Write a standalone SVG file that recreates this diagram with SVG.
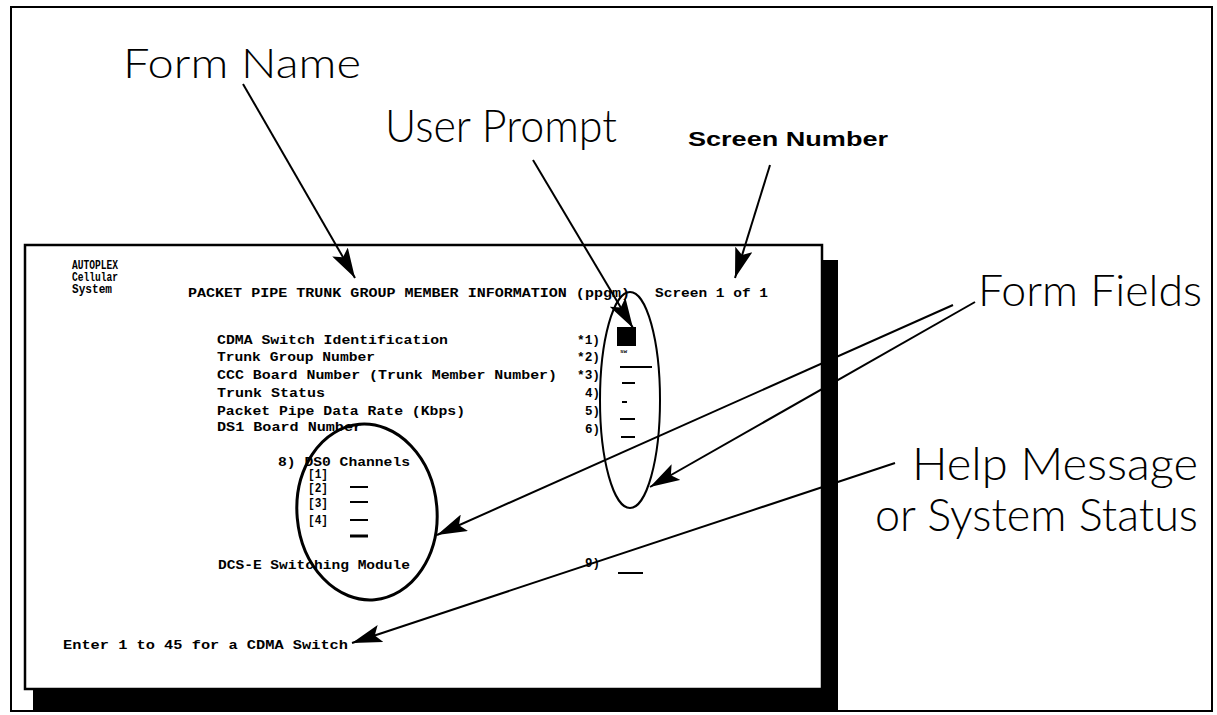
<svg xmlns="http://www.w3.org/2000/svg" width="1217" height="715" viewBox="0 0 1217 715">
<style>
.lbl{font-family:Lato,"Open Sans","Liberation Sans",sans-serif;font-weight:300;fill:#000}
.scr{font-family:"Liberation Mono","DejaVu Sans Mono",monospace;font-size:12px;font-weight:bold;fill:#000}
.con{stroke:#000;stroke-width:2;fill:none;marker-end:url(#ah)}
.fld{stroke:#000;stroke-width:2}
</style>
<defs>
<marker id="ah" markerUnits="userSpaceOnUse" markerWidth="30" markerHeight="18" refX="30" refY="9" orient="auto">
<path d="M0,0 L30,9 L0,18 L6,9 z" fill="#000"/>
</marker>
</defs>
<rect width="1217" height="715" fill="#fff"/>
<rect x="11" y="7" width="1201" height="704" fill="none" stroke="#000" stroke-width="2"/>

<g id="screen">
<path d="M822,260 H838 V710 H33 V689 H822 Z" fill="#000"/>
<rect x="25" y="245" width="797" height="444" fill="#fff" stroke="#000" stroke-width="2.5"/>
<text class="scr" x="72" y="269" textLength="46" lengthAdjust="spacingAndGlyphs">AUTOPLEX</text>
<text class="scr" x="72" y="281" textLength="46" lengthAdjust="spacingAndGlyphs">Cellular</text>
<text class="scr" x="72" y="293" textLength="40" lengthAdjust="spacingAndGlyphs">System</text>
<text class="scr" x="188" y="297" textLength="442" lengthAdjust="spacingAndGlyphs" style="font-size:13px">PACKET PIPE TRUNK GROUP MEMBER INFORMATION (ppgm)</text>
<text class="scr" x="655" y="297" textLength="113" lengthAdjust="spacingAndGlyphs">Screen 1 of 1</text>
<text class="scr" x="217" y="344" textLength="231" lengthAdjust="spacingAndGlyphs">CDMA Switch Identification</text>
<text class="scr" x="217" y="361" textLength="158" lengthAdjust="spacingAndGlyphs">Trunk Group Number</text>
<text class="scr" x="217" y="379" textLength="340" lengthAdjust="spacingAndGlyphs">CCC Board Number (Trunk Member Number)</text>
<text class="scr" x="217" y="397" textLength="108" lengthAdjust="spacingAndGlyphs">Trunk Status</text>
<text class="scr" x="217" y="415" textLength="248" lengthAdjust="spacingAndGlyphs">Packet Pipe Data Rate (Kbps)</text>
<text class="scr" x="217" y="431" textLength="145" lengthAdjust="spacingAndGlyphs">DS1 Board Number</text>
<text class="scr" x="577" y="344" textLength="23" lengthAdjust="spacingAndGlyphs">*1)</text>
<text class="scr" x="577" y="361" textLength="23" lengthAdjust="spacingAndGlyphs">*2)</text>
<text class="scr" x="577" y="379" textLength="23" lengthAdjust="spacingAndGlyphs">*3)</text>
<text class="scr" x="585" y="397" textLength="15" lengthAdjust="spacingAndGlyphs">4)</text>
<text class="scr" x="585" y="415" textLength="15" lengthAdjust="spacingAndGlyphs">5)</text>
<text class="scr" x="585" y="433" textLength="15" lengthAdjust="spacingAndGlyphs">6)</text>
<rect x="617" y="327" width="19" height="19" fill="#000"/>
<text class="scr" x="620" y="353" style="font-size:6px">sw</text>
<line class="fld" x1="620" y1="367" x2="652" y2="367"/>
<line class="fld" x1="622" y1="383" x2="635" y2="383"/>
<line class="fld" x1="622" y1="402" x2="627" y2="402"/>
<line class="fld" x1="620" y1="419" x2="635" y2="419"/>
<line class="fld" x1="621" y1="437" x2="635" y2="437"/>
<text class="scr" x="278" y="466" textLength="132" lengthAdjust="spacingAndGlyphs">8) DS0 Channels</text>
<text class="scr" x="308" y="478" textLength="20" lengthAdjust="spacingAndGlyphs">[1]</text>
<text class="scr" x="308" y="492" textLength="20" lengthAdjust="spacingAndGlyphs">[2]</text>
<text class="scr" x="308" y="507" textLength="20" lengthAdjust="spacingAndGlyphs">[3]</text>
<text class="scr" x="308" y="524" textLength="20" lengthAdjust="spacingAndGlyphs">[4]</text>
<line class="fld" x1="350" y1="487" x2="368" y2="487"/>
<line class="fld" x1="350" y1="502" x2="368" y2="502"/>
<line class="fld" x1="350" y1="520" x2="368" y2="520"/>
<line x1="350" y1="536" x2="368" y2="536" stroke="#000" stroke-width="3"/>
<text class="scr" x="218" y="569" textLength="192" lengthAdjust="spacingAndGlyphs">DCS-E Switching Module</text>
<text class="scr" x="585" y="567" textLength="15" lengthAdjust="spacingAndGlyphs">9)</text>
<line class="fld" x1="618" y1="573" x2="643" y2="573"/>
<text class="scr" x="63" y="649" textLength="285" lengthAdjust="spacingAndGlyphs">Enter 1 to 45 for a CDMA Switch</text>
<ellipse cx="630" cy="400" rx="30" ry="108" fill="none" stroke="#000" stroke-width="2"/>
<ellipse cx="367" cy="512" rx="70" ry="88" fill="none" stroke="#000" stroke-width="3" transform="rotate(-5 367 512)"/>
</g>

<g id="label-form-name"><text class="lbl" x="123" y="78" font-size="42" textLength="238" lengthAdjust="spacingAndGlyphs">Form Name</text></g>
<g id="label-user-prompt"><text class="lbl" x="385" y="142" font-size="46" textLength="232" lengthAdjust="spacingAndGlyphs">User Prompt</text></g>
<g id="label-screen-number"><text x="688" y="146" font-family="'Liberation Sans',Arial,sans-serif" font-weight="bold" font-size="21" textLength="200" lengthAdjust="spacingAndGlyphs">Screen Number</text></g>
<g id="label-form-fields"><text class="lbl" x="978" y="306" font-size="43" textLength="224" lengthAdjust="spacingAndGlyphs">Form Fields</text></g>
<g id="label-help"><text class="lbl" font-size="46"><tspan x="912" y="480" textLength="286" lengthAdjust="spacingAndGlyphs">Help Message</tspan><tspan x="875" y="531" textLength="323" lengthAdjust="spacingAndGlyphs">or System Status</tspan></text></g>

<g id="connectors">
<line class="con" x1="243" y1="84" x2="355" y2="278"/>
<line class="con" x1="533" y1="160" x2="633" y2="328"/>
<line class="con" x1="770" y1="165" x2="735" y2="278"/>
<line class="con" x1="953" y1="305" x2="437" y2="535"/>
<line class="con" x1="975" y1="302" x2="650" y2="487"/>
<line class="con" x1="895" y1="463" x2="352" y2="643"/>
</g>
</svg>
